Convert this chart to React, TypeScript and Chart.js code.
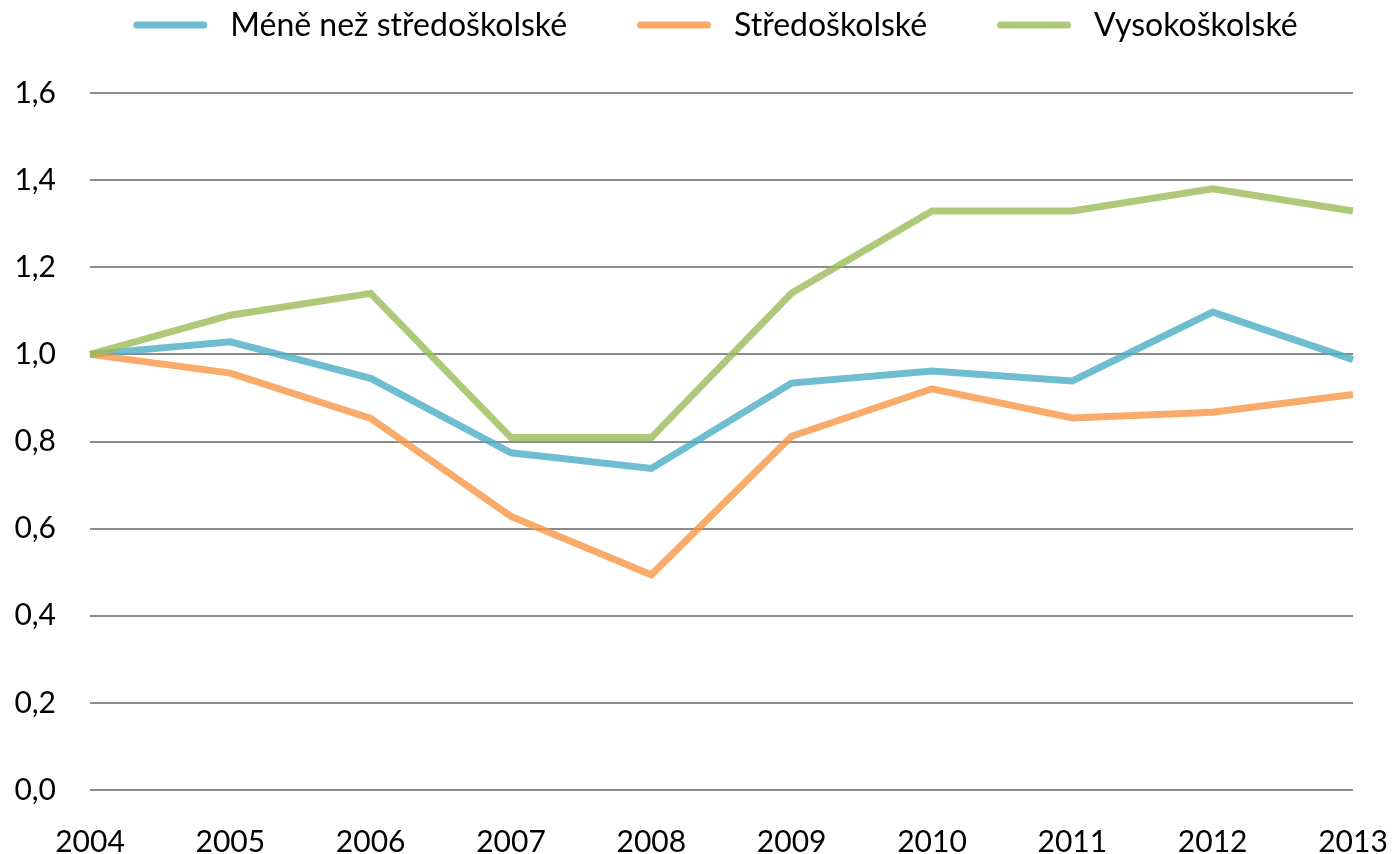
import React, { useEffect, useRef } from "react";
import { Chart, registerables } from "chart.js";

Chart.register(...registerables);

const years = ["2004", "2005", "2006", "2007", "2008", "2009", "2010", "2011", "2012", "2013"];
const meneNezStredoskolske = [1.0, 1.029, 0.945, 0.774, 0.738, 0.934, 0.962, 0.939, 1.097, 0.988];
const stredoskolske = [1.0, 0.957, 0.853, 0.628, 0.494, 0.812, 0.921, 0.854, 0.867, 0.908];
const vysokoskolske = [1.0, 1.09, 1.14, 0.809, 0.809, 1.141, 1.329, 1.329, 1.38, 1.329];
const seriesLabels = ["Méně než středoškolské", "Středoškolské", "Vysokoškolské"];
const yTicks = [0, 0.2, 0.4, 0.6, 0.8, 1.0, 1.2, 1.4, 1.6];

const FONT = "Lato, 'Open Sans', sans-serif";

const legendPlugin = {
  id: "topLegend",
  afterDraw(chart: any) {
    const ctx = chart.ctx;
    ctx.save();
    ctx.font = `32px ${FONT}`;
    const items = chart.data.datasets.map((ds: any) => ({
      label: ds.label,
      color: ds.legendColor,
      w: ctx.measureText(ds.label).width,
    }));
    const lineW = 74;
    const gap = 23;
    const itemGap = 70;
    const total =
      items.reduce((s: number, it: any) => s + lineW + gap + it.w, 0) + itemGap * (items.length - 1);
    let x = (chart.chartArea.left + chart.chartArea.right) / 2 - 6 - total / 2;
    const y = 25;
    for (const it of items) {
      ctx.strokeStyle = it.color;
      ctx.lineWidth = 7;
      ctx.lineCap = "round";
      ctx.beginPath();
      ctx.moveTo(x + 3.5, y);
      ctx.lineTo(x + lineW - 3.5, y);
      ctx.stroke();
      ctx.fillStyle = "#000";
      ctx.textAlign = "left";
      ctx.textBaseline = "middle";
      ctx.fillText(it.label, x + lineW + gap, y + 1);
      x += lineW + gap + it.w + itemGap;
    }
    ctx.restore();
  },
};

export default function App() {
  const ref = useRef<HTMLCanvasElement>(null);
  useEffect(() => {
    if (!ref.current) return;
    const chart = new Chart(ref.current, {
      type: "line",
      data: {
        labels: years,
        datasets: [
          {
            label: seriesLabels[0],
            data: meneNezStredoskolske,
            borderColor: "rgba(75,172,198,0.8)",
            legendColor: "rgb(111,189,209)",
            borderWidth: 7,
            pointRadius: 0,
            order: 3,
          } as any,
          {
            label: seriesLabels[1],
            data: stredoskolske,
            borderColor: "rgba(247,150,70,0.8)",
            legendColor: "rgb(249,171,107)",
            borderWidth: 7,
            pointRadius: 0,
            order: 2,
          } as any,
          {
            label: seriesLabels[2],
            data: vysokoskolske,
            borderColor: "rgba(155,187,89,0.8)",
            legendColor: "rgb(175,201,122)",
            borderWidth: 7,
            pointRadius: 0,
            order: 1,
          } as any,
        ],
      },
      options: {
        animation: false,
        responsive: false,
        layout: { padding: { top: 93, right: 41, left: 0, bottom: 0 } },
        plugins: {
          legend: { display: false },
          tooltip: { enabled: false },
        },
        scales: {
          x: {
            offset: false,
            grid: { display: false },
            border: { display: false },
            ticks: {
              color: "#000",
              font: { family: FONT, size: 30 },
              padding: 26,
              maxRotation: 0,
              autoSkip: false,
            },
            afterFit(scale: any) {
              scale.height = 64;
              scale.paddingLeft = 0;
              scale.paddingRight = 0;
            },
          },
          y: {
            min: 0,
            max: 1.6,
            afterBuildTicks(scale: any) {
              scale.ticks = yTicks.map((v) => ({ value: v }));
            },
            grid: { color: "#8c8c8c", lineWidth: 2, drawTicks: false },
            border: { display: false },
            ticks: {
              color: "#000",
              font: { family: FONT, size: 30 },
              padding: 34,
              callback: (v: any) => Number(v).toFixed(1).replace(".", ","),
            },
            afterFit(scale: any) {
              scale.width = 90;
            },
          },
        },
      },
      plugins: [legendPlugin],
    });
    return () => chart.destroy();
  }, []);
  return (
    <div style={{ position: "absolute", left: 0, top: 0, width: 1394, height: 854 }}>
      <canvas ref={ref} width={1394} height={854} />
    </div>
  );
}
